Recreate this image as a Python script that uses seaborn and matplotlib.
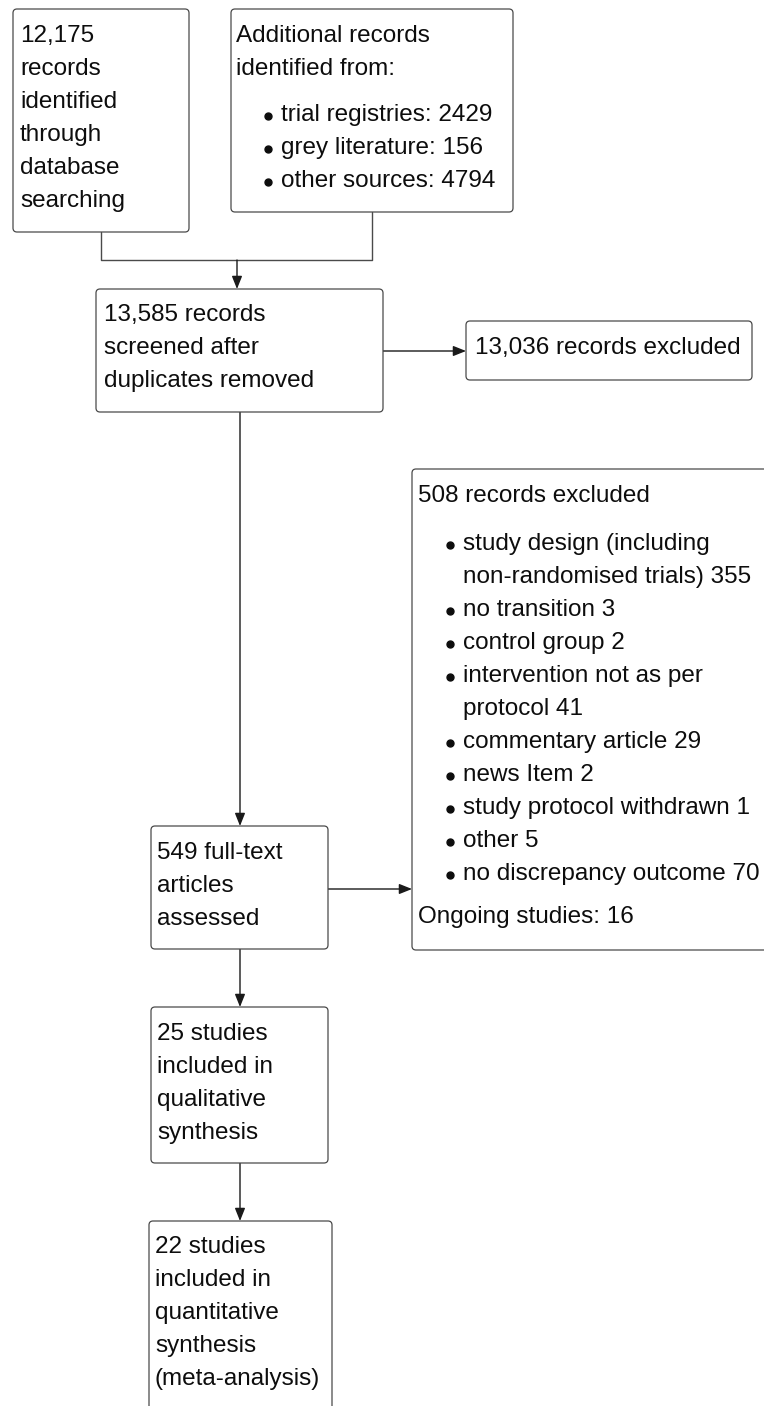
import matplotlib
matplotlib.use("Agg")
import matplotlib.pyplot as plt
from matplotlib.patches import FancyBboxPatch
import seaborn as sns

# flow diagram content
identified_db = ["12,175", "records", "identified", "through", "database", "searching"]
additional_head = ["Additional records", "identified from:"]
additional_sources = ["trial registries", "grey literature", "other sources"]
additional_counts = [2429, 156, 4794]
screened = ["13,585 records", "screened after", "duplicates removed"]
screen_excluded = ["13,036 records excluded"]
fulltext = ["549 full-text", "articles", "assessed"]
fulltext_excluded_head = "508 records excluded"
exclusion_reasons = ["study design (including\nnon-randomised trials)", "no transition", "control group",
                     "intervention not as per\nprotocol", "commentary article", "news Item",
                     "study protocol withdrawn", "other", "no discrepancy outcome"]
exclusion_counts = [355, 3, 2, 41, 29, 2, 1, 5, 70]
ongoing_studies = 16
qualitative = ["25 studies", "included in", "qualitative", "synthesis"]
quantitative = ["22 studies", "included in", "quantitative", "synthesis", "(meta-analysis)"]

sns.set_theme(style="white")
plt.rcParams['font.family'] = ['Liberation Sans', 'DejaVu Sans']

FS = 17.5
LINE = 33
EDGE = '#4a4a4a'
INK = '#0d0d0d'

fig = plt.figure(figsize=(7.64, 14.06), dpi=100)
ax = fig.add_axes([0, 0, 1, 1])
ax.set_xlim(0, 764)
ax.set_ylim(1406, 0)
ax.axis('off')


def box(x0, y0, x1, y1):
    ax.add_patch(FancyBboxPatch((x0, y0), x1 - x0, y1 - y0,
                                boxstyle="round,pad=0,rounding_size=4",
                                fc='white', ec=EDGE, lw=0.9, zorder=2))


def lines(x, y, items):
    for i, t in enumerate(items):
        ax.text(x, y + i * LINE, t, fontsize=FS, ha='left', va='baseline', color=INK, zorder=3)


def bullets(xdot, xtext, y, items):
    for i, t in enumerate(items):
        yy = y + i * LINE
        ax.plot([xdot], [yy - 5], marker='o', ms=5, color=INK, zorder=3)
        ax.text(xtext, yy, t, fontsize=FS, ha='left', va='baseline', color=INK, zorder=3)


def arrow(x0, y0, x1, y1):
    ax.annotate('', xy=(x1, y1), xytext=(x0, y0),
                arrowprops=dict(arrowstyle='-|>,head_length=0.7,head_width=0.28', color='#1a1a1a',
                                lw=1.0, shrinkA=0, shrinkB=0, mutation_scale=11), zorder=1)


def seg(xs, ys):
    ax.plot(xs, ys, color=EDGE, lw=1.0, zorder=1)


# identification
box(13, 9, 189, 232)
lines(20, 42, identified_db)

box(231, 9, 513, 212)
lines(236, 42, additional_head)
bullets(268, 281, 121, [f"{s}: {c}" for s, c in zip(additional_sources, additional_counts)])

seg([101, 101, 372, 372], [232, 260, 260, 212])
arrow(237, 260, 237, 289)

# screening
box(96, 289, 383, 412)
lines(104, 321, screened)

box(466, 321, 752, 380)
lines(475, 354, screen_excluded)
arrow(383, 351, 466, 351)

arrow(240, 412, 240, 826)

# eligibility
box(151, 826, 328, 949)
lines(157, 859, fulltext)

reason_lines = []
for r, c in zip(exclusion_reasons, exclusion_counts):
    parts = r.split("\n")
    parts[-1] = f"{parts[-1]} {c}"
    reason_lines.append(parts)

box(412, 469, 820, 950)
ax.text(418, 502, fulltext_excluded_head, fontsize=FS, ha='left', va='baseline', color=INK, zorder=3)
y = 550
for parts in reason_lines:
    bullets(450, 463, y, parts[:1])
    if len(parts) > 1:
        lines(463, y + LINE, parts[1:])
    y += LINE * len(parts)
ax.text(418, 923, f"Ongoing studies: {ongoing_studies}", fontsize=FS, ha='left', va='baseline',
        color=INK, zorder=3)
arrow(328, 889, 412, 889)

# included
arrow(240, 949, 240, 1007)
box(151, 1007, 328, 1163)
lines(157, 1040, qualitative)

arrow(240, 1163, 240, 1221)
box(149, 1221, 332, 1460)
lines(155, 1253, quantitative)

fig.savefig('out.png', dpi=100)
